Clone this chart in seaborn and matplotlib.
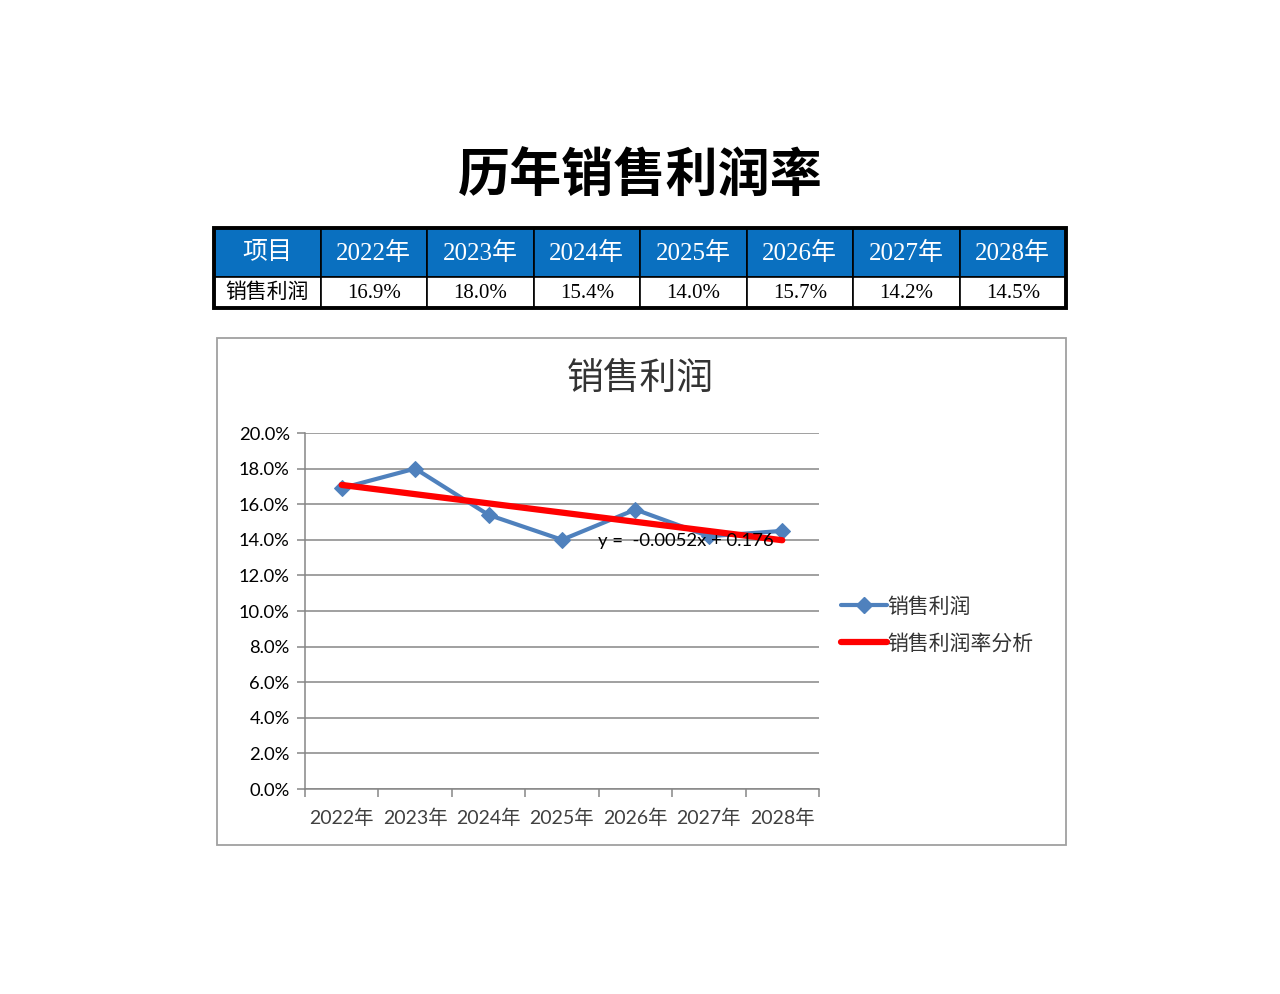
import numpy as np
import pandas as pd
import seaborn as sns
import matplotlib.pyplot as plt
from matplotlib.patches import Rectangle
from matplotlib.lines import Line2D

# data
years = ["2022年", "2023年", "2024年", "2025年", "2026年", "2027年", "2028年"]
profit_rate = [0.169, 0.180, 0.154, 0.140, 0.157, 0.142, 0.145]
table_head = "项目"
row_name = "销售利润"
series_name = "销售利润"
trend_name = "销售利润率分析"
main_title = "历年销售利润率"
chart_title = "销售利润"
y_ticks = [0.0, 0.02, 0.04, 0.06, 0.08, 0.10, 0.12, 0.14, 0.16, 0.18, 0.20]

BLUE = "#4F81BD"
HEADER_BLUE = "#0A70C0"
GRID = "#868686"

sns.set_style("white")
plt.rcParams["font.family"] = ["Lato", "Noto Sans CJK SC", "DejaVu Sans"]

W, H = 1280, 994
fig = plt.figure(figsize=(W / 100, H / 100), dpi=100)


def fx(px):
    return px / W


def fy(py):
    return 1 - py / H


# main title
fig.text(0.5, fy(176), main_title, ha="center", va="center", fontsize=37.5,
         fontweight="bold", color="black",
         family=["Noto Sans CJK SC", "DejaVu Sans"])

# table
tab = fig.add_axes([fx(214), fy(308), fx(1066 - 214), (308 - 228) / H])
tab.set_xlim(0, 8)
tab.set_ylim(0, 80)
tab.axis("off")
head_cells = [table_head] + years
data_cells = [row_name] + [f"{v * 100:.1f}%" for v in profit_rate]
for i, (h, d) in enumerate(zip(head_cells, data_cells)):
    tab.add_patch(Rectangle((i, 31), 1, 49, facecolor=HEADER_BLUE,
                            edgecolor="black", lw=1.2))
    tab.add_patch(Rectangle((i, 0), 1, 31, facecolor="white",
                            edgecolor="black", lw=1.2))
    tab.text(i + 0.5, 55, h, ha="center", va="center", color="white",
             fontsize=18, family=["Liberation Serif", "Noto Sans CJK SC"])
    tab.text(i + 0.5, 15, d, ha="center", va="center", color="black",
             fontsize=15, family=["Liberation Serif", "Noto Sans CJK SC"])
tab.add_patch(Rectangle((0, 0), 8, 80, facecolor="none", edgecolor="black",
                        lw=2.8, clip_on=False))

# chart frame
fig.patches.append(Rectangle((fx(217), fy(845)), fx(1066 - 217), (845 - 338) / H,
                             transform=fig.transFigure, facecolor="none",
                             edgecolor="#A0A0A0", lw=1.3))
fig.text(0.5, fy(378), chart_title, ha="center", va="center", fontsize=26.5,
         color="#333333", family=["Noto Sans CJK SC", "DejaVu Sans"])

ax = fig.add_axes([fx(305), fy(789), fx(819 - 305), (789 - 433) / H])
df = pd.DataFrame({"year": years, "rate": profit_rate})

# linear trend (x = 1..n like Excel)
xs = np.arange(1, len(years) + 1)
slope, intercept = np.polyfit(xs, profit_rate, 1)
df["trend"] = slope * xs + intercept

sns.lineplot(data=df, x="year", y="rate", ax=ax, color=BLUE, lw=3,
             marker="D", markersize=8, markeredgecolor=BLUE, sort=False)
sns.lineplot(data=df, x="year", y="trend", ax=ax, color="red", lw=4.5,
             sort=False)

ax.set_xlim(-0.5, len(years) - 0.5)
ax.set_ylim(0, 0.20)
ax.set_yticks(y_ticks)
ax.set_yticklabels([f"{t * 100:.1f}%" for t in y_ticks])
ax.set_xticks(range(len(years)))
ax.set_xticklabels(years)
ax.set_xticks(np.arange(-0.5, len(years), 1), minor=True)
ax.tick_params(axis="x", which="major", length=0, pad=14, labelsize=14,
               labelcolor="#404040")
ax.tick_params(axis="x", which="minor", length=6, width=1.1, color=GRID,
               direction="out", bottom=True)
ax.tick_params(axis="y", length=6, width=1.1, color=GRID, direction="out",
               left=True, labelsize=13.2, labelcolor="black", pad=5)
ax.set_xlabel("")
ax.set_ylabel("")
ax.grid(axis="y", color=GRID, lw=1.1)
ax.set_axisbelow(True)
for side in ["top", "right"]:
    ax.spines[side].set_visible(False)
for side in ["left", "bottom"]:
    ax.spines[side].set_color(GRID)
    ax.spines[side].set_linewidth(1.1)
if ax.get_legend() is not None:
    ax.get_legend().remove()

fig.text(fx(598), fy(541), f"y =  {slope:.4f}x + {intercept:.3f}", ha="left",
         va="center", fontsize=13.3, color="black")

handles = [
    Line2D([], [], color=BLUE, lw=3, marker="D", markersize=8),
    Line2D([], [], color="red", lw=4.5),
]
fig.legend(handles, [series_name, trend_name], loc="center left",
           bbox_to_anchor=(fx(831), fy(625)), frameon=False,
           handlelength=2.2, handletextpad=0.02, labelspacing=0.72,
           borderpad=0, labelcolor="#333333",
           prop={"family": ["Noto Sans CJK SC", "DejaVu Sans"], "size": 15})

fig.savefig("out.png", dpi=100, facecolor="white")
